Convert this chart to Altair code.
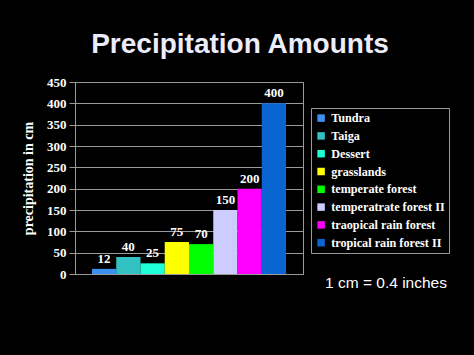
import altair as alt
import pandas as pd

biomes = ["Tundra", "Taiga", "Dessert", "grasslands", "temperate forest",
          "temperatrate forest II", "traopical rain forest", "tropical rain forest II"]
values = [12, 40, 25, 75, 70, 150, 200, 400]
colors = ["#3d8ff0", "#33c2c4", "#1dffd6", "#ffff00", "#00ff00",
          "#ccccff", "#ff00ff", "#0a64d2"]
y_ticks = [0, 50, 100, 150, 200, 250, 300, 350, 400, 450]
title_text = "Precipitation Amounts"
note_text = "1 cm = 0.4 inches"
y_title = "precipitation in cm"

df = pd.DataFrame({"biome": biomes, "value": values})

serif = "Liberation Serif"
sans = "Liberation Sans"

x_enc = alt.X("biome:N", sort=biomes,
              scale=alt.Scale(paddingInner=0, paddingOuter=0.7),
              axis=alt.Axis(labels=False, ticks=False, title=None,
                            domainColor="#9a9a9a", grid=False))
y_axis = alt.Axis(values=y_ticks, title=y_title, labelOverlap=False,
                  titleFont=serif, titleFontSize=14, titleFontWeight="bold",
                  titleColor="white", titlePadding=11,
                  labelFont=serif, labelFontSize=13, labelFontWeight="bold",
                  labelColor="white", labelPadding=3,
                  tickColor="#9a9a9a", tickSize=6,
                  domainColor="#9a9a9a",
                  grid=True, gridColor="#9a9a9a", gridWidth=1)
y_scale = alt.Scale(domain=[0, 450], nice=False)

bars = alt.Chart(df).mark_bar(stroke=None).encode(
    x=x_enc,
    y=alt.Y("value:Q", scale=y_scale, axis=y_axis),
    color=alt.Color("biome:N", sort=biomes,
                    scale=alt.Scale(domain=biomes, range=colors),
                    legend=alt.Legend(title=None, orient="none", legendX=236, legendY=26,
                                      labelFont=serif, labelFontSize=12.2, labelFontWeight="bold",
                                      labelColor="white", symbolType="square", symbolSize=56,
                                      symbolStrokeWidth=0, labelOffset=4, rowPadding=4.8,
                                      padding=4, strokeColor="#9a9a9a", fillColor="black",
                                      labelLimit=300))
)

labels = alt.Chart(df).mark_text(font=serif, fontSize=13, fontWeight="bold",
                                 color="white", dy=-10).encode(
    x=x_enc,
    y=alt.Y("value:Q", scale=y_scale, axis=y_axis),
    text="value:Q")

title = alt.Chart(pd.DataFrame({"t": [title_text]})).mark_text(
    font=sans, fontSize=28, fontWeight="bold", color="#ececfa", baseline="alphabetic"
).encode(text="t:N", x=alt.value(165), y=alt.value(-29))

note = alt.Chart(pd.DataFrame({"t": [note_text]})).mark_text(
    font=sans, fontSize=15.5, color="white", baseline="alphabetic"
).encode(text="t:N", x=alt.value(311), y=alt.value(206))

chart = alt.layer(bars, labels, title, note).properties(
    width=228, height=192,
    autosize=alt.AutoSizeParams(type="none"),
    padding={"left": 75, "top": 82, "right": 171, "bottom": 81},
    background="black",
).configure_view(stroke="#9a9a9a", strokeWidth=1)

chart.save("out.html", embed_options={"renderer": "svg", "actions": False})
